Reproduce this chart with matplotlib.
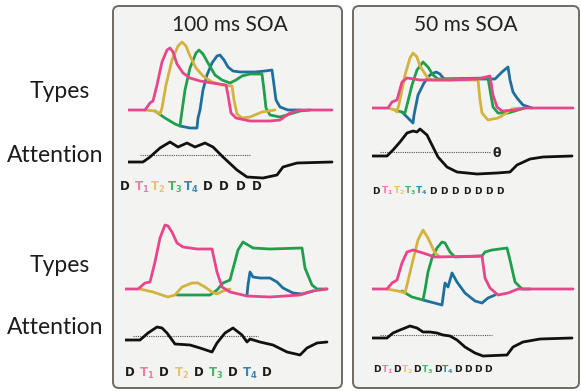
import matplotlib.pyplot as plt
from matplotlib.patches import FancyBboxPatch

# colours of the four targets
PINK = '#e8458b'
GOLD = '#d4b23e'
GREEN = '#1f9e4c'
BLUE = '#1f6f9e'
# paler versions used in the letter streams
LETTER_COL = {'D': '#1a1a1a', 'T1': '#f07aa8', 'T2': '#e6c46a',
              'T3': '#45b567', 'T4': '#3a83b3'}

# --- data: (time, activation) ----------------------------------------
# 100 ms SOA, first stream
tl_pink = [(0, 0), (17, 0), (22, 7), (25, 9), (29, 25), (34, 48), (39, 60), (42, 62),
           (45, 58), (49, 46), (55, 37), (62, 32), (72, 29), (84, 27), (98, 25),
           (100, 15), (103, -3), (108, -8), (122, -11), (142, -11), (152, -10),
           (162, -3), (172, 0), (204, 0)]
tl_gold = [(17, 0), (27, -1), (32, -4), (34, 2), (38, 25), (44, 50), (50, 64), (54, 68),
           (58, 64), (62, 54), (68, 42), (75, 34), (84, 28), (94, 25), (104, 24),
           (106, 10), (109, -4), (114, -8), (122, -7), (134, -2), (147, 0)]
tl_green = [(27, -1), (37, -8), (47, -14), (52, -16), (53, -8), (57, 20), (62, 42),
            (68, 57), (71, 60), (75, 56), (80, 47), (87, 35), (94, 30), (102, 27),
            (108, 30), (114, 34), (122, 36), (134, 36), (136, 20), (138, 2), (142, -5),
            (152, -7), (162, -4), (172, -1), (182, 0)]
tl_blue = [(52, -16), (62, -18), (69, -18), (70, -8), (72, 0), (75, 20), (79, 35),
           (84, 47), (89, 54), (92, 55), (96, 50), (100, 43), (105, 39), (112, 38),
           (127, 38), (137, 39), (144, 40), (146, 25), (148, 10), (152, 3), (160, 0),
           (172, 0)]
tl_att = [(0, 0), (15, 0), (22, 5), (32, 14), (42, 20), (50, 15), (59, 19), (67, 15),
          (77, 19), (85, 15), (95, 5), (109, -8), (119, -15), (135, -16), (149, -13),
          (155, -5), (169, -1), (204, 0)]
tl_theta = (12, 122, 7)
tl_letters = ['D', 'T1', 'T2', 'T3', 'T4', 'D', 'D', 'D', 'D']

# 50 ms SOA, first stream
tr_pink = [(0, 0), (16, 0), (20, 6), (25, 8), (30, 26), (35, 30), (48, 28), (78, 28),
           (106, 29), (118, 32), (121, 13), (125, 1), (130, -3), (143, -2), (153, 0),
           (201, 0)]
tr_gold = [(16, 0), (23, -2), (25, -4), (28, 8), (33, 33), (38, 50), (41, 55), (45, 51),
           (48, 42), (55, 31), (60, 28), (106, 28), (108, 8), (110, -5), (116, -12),
           (126, -10), (133, -6), (140, -1), (148, 0)]
tr_green = [(23, -2), (33, -5), (35, 3), (40, 23), (45, 38), (51, 46), (56, 41),
            (61, 33), (66, 29), (116, 30), (118, 18), (121, 1), (126, -5), (136, -5),
            (146, -2), (153, 0)]
tr_blue = [(30, -4), (41, -15), (42, -7), (46, 13), (52, 25), (58, 33), (64, 36),
           (68, 34), (72, 29), (123, 29), (130, 36), (136, 41), (138, 28), (141, 16),
           (145, 10), (151, 3), (160, 0)]
tr_att = [(0, 0), (15, 0), (21, 6), (28, 14), (35, 23), (41, 25), (45, 24), (48, 27),
          (55, 21), (61, 9), (66, -1), (75, -11), (85, -16), (105, -18), (125, -17),
          (138, -16), (145, -9), (158, -3), (171, -1), (200, 0)]
tr_theta = (8, 118, 4)
tr_letters = ['D', 'T1', 'T2', 'T3', 'T4', 'D', 'D', 'D', 'D', 'D', 'D', 'D']

# 100 ms SOA, interleaved stream
bl_pink = [(0, 0), (13, 0), (20, 6), (25, 7), (30, 27), (35, 51), (40, 64), (43, 63),
           (47, 57), (52, 46), (58, 42), (72, 40), (87, 40), (92, 17), (97, 2),
           (105, -3), (122, -7), (145, -8), (175, -6), (188, -2), (202, 0)]
bl_gold = [(15, 0), (28, -3), (43, -8), (50, -6), (57, 2), (67, 6), (73, 6), (80, 2),
           (87, -3), (92, -5), (98, -2), (105, 0)]
bl_green = [(52, -6), (85, -6), (92, -1), (98, 6), (105, 9), (109, 24), (113, 39),
            (118, 47), (123, 44), (128, 41), (145, 40), (177, 41), (180, 21),
            (187, 4), (192, 0), (202, 0)]
bl_blue = [(122, -6), (123, 4), (125, 17), (128, 12), (135, 11), (145, 11), (152, 7),
           (158, 1), (168, -4), (177, -5), (188, -2)]
bl_att = [(0, 0), (15, 0), (23, 7), (32, 13), (37, 12), (42, 7), (50, -4), (65, -5),
          (75, -8), (87, -12), (92, -3), (100, 7), (108, 12), (117, 5), (122, -2),
          (125, 1), (135, -2), (148, -5), (162, -12), (175, -15), (182, -8),
          (192, -3), (202, -2)]
bl_theta = (8, 133, 4)
bl_letters = ['D', 'T1', 'D', 'T2', 'D', 'T3', 'D', 'T4', 'D']

# 50 ms SOA, interleaved stream
br_pink = [(0, 0), (15, 0), (20, 6), (25, 9), (30, 26), (35, 37), (41, 39), (51, 36),
           (63, 32), (110, 33), (113, 11), (118, 1), (126, -6), (136, -4), (146, 0),
           (201, 0)]
br_gold = [(15, 0), (26, -2), (33, -4), (35, 4), (41, 29), (46, 49), (51, 59), (56, 51),
           (63, 36), (68, 32)]
br_green = [(30, -2), (40, -8), (51, -11), (53, -1), (56, 17), (60, 31), (65, 41),
            (70, 47), (73, 46), (78, 37), (83, 32), (110, 33), (113, 37), (120, 39),
            (135, 41), (138, 29), (143, 7), (150, 0), (158, 0)]
br_blue = [(51, -11), (70, -16), (73, 6), (76, 2), (80, 16), (85, 7), (93, -4),
           (103, -12), (110, -14), (116, -9), (123, -6)]
br_att = [(0, 0), (15, 0), (21, 5), (28, 8), (38, 12), (45, 10), (51, 6), (58, 6),
          (65, 5), (71, 3), (78, 2), (85, -2), (93, -9), (103, -15), (111, -18),
          (135, -17), (141, -9), (151, -4), (168, -1), (200, 0)]
br_theta = (8, 120, 3)
br_letters = ['D', 'T1', 'D', 'T2', 'D', 'T3', 'D', 'T4', 'D', 'D', 'D', 'D']

titles = ['100 ms SOA', '50 ms SOA']
row_labels = ['Types', 'Attention', 'Types', 'Attention']

# ---------------------------------------------------------------------
W, H = 581, 391
fig = plt.figure(figsize=(W / 100, H / 100), dpi=100)
bg = fig.add_axes([0, 0, 1, 1])
bg.set_xlim(0, W)
bg.set_ylim(H, 0)
bg.axis('off')

for x, w in [(113, 229), (353, 226)]:
    bg.add_patch(FancyBboxPatch((x, 6), w, 382, boxstyle='round,pad=0,rounding_size=6',
                                fc='#f3f4f2', ec='#6e6a66', lw=1.4, zorder=0))

for t, xc in zip(titles, [230, 466]):
    bg.text(xc, 25, t, ha='center', va='center', fontsize=15, family='Lato', color='#222222')

for lab, (xc, yc) in zip(row_labels, [(60, 91), (55, 155), (60, 266), (55, 328)]):
    bg.text(xc, yc, lab, ha='center', va='center', fontsize=16.5, family='Lato', color='#1c1c1c')


def cell_axes(x0, y0, lo, hi, span=206):
    ax = fig.add_axes([x0 / W, 1 - (y0 - lo) / H, span / W, (hi - lo) / H])
    ax.set_xlim(0, span)
    ax.set_ylim(lo, hi)
    ax.axis('off')
    ax.patch.set_alpha(0)
    return ax


def draw_types(ax, curves):
    for pts, col in curves:
        ax.plot([p[0] for p in pts], [p[1] for p in pts], color=col, lw=2.0,
                solid_joinstyle='round', solid_capstyle='round')


def draw_att(ax, pts, theta):
    ax.plot([theta[0], theta[1]], [theta[2], theta[2]], color='#555555', lw=0.8,
            ls=(0, (1, 1)))
    ax.plot([p[0] for p in pts], [p[1] for p in pts], color='#111111', lw=2.0,
            solid_joinstyle='round', solid_capstyle='round')


def draw_letters(x0, y0, step, letters, size):
    for i, s in enumerate(letters):
        txt = 'D' if s == 'D' else r'$\mathbf{T_%s}$' % s[1]
        bg.text(x0 + i * step, y0, txt, ha='center', va='center', fontsize=size,
                fontweight='bold', color=LETTER_COL[s])


cells = [
    (128, 110, 162, [(tl_blue, BLUE), (tl_green, GREEN), (tl_gold, GOLD), (tl_pink, PINK)], tl_att, tl_theta),
    (372, 108, 156, [(tr_blue, BLUE), (tr_green, GREEN), (tr_gold, GOLD), (tr_pink, PINK)], tr_att, tr_theta),
    (125, 289, 340, [(bl_blue, BLUE), (bl_green, GREEN), (bl_gold, GOLD), (bl_pink, PINK)], bl_att, bl_theta),
    (372, 289, 338, [(br_blue, BLUE), (br_green, GREEN), (br_gold, GOLD), (br_pink, PINK)], br_att, br_theta),
]
for x0, yt, ya, curves, att, theta in cells:
    draw_types(cell_axes(x0, yt, -25, 75), curves)
    draw_att(cell_axes(x0, ya, -25, 35), att, theta)

bg.text(497, 153, r'$\mathbf{\theta}$', ha='center', va='center', fontsize=9, color='#222222')

draw_letters(125, 187, 16.5, tl_letters, 8.5)
draw_letters(376, 191, 11.3, tr_letters, 6.4)
draw_letters(130, 373, 17.1, bl_letters, 8.5)
draw_letters(377, 370, 10.1, br_letters, 6.6)

fig.savefig('out.png', dpi=100, facecolor='white')
